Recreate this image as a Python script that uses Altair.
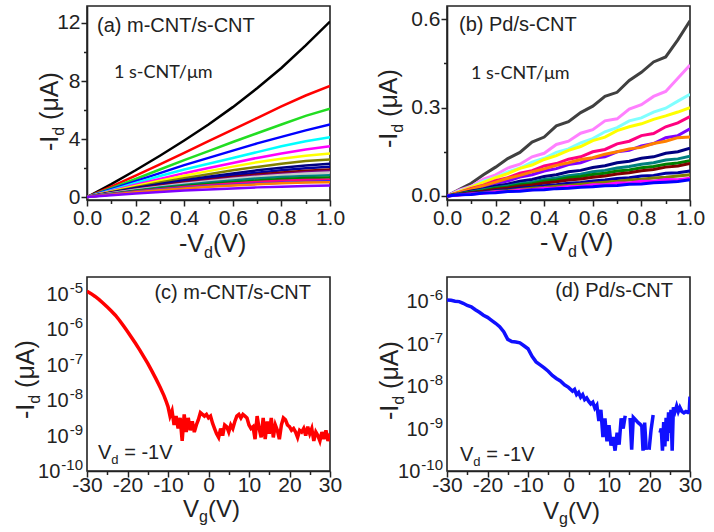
import altair as alt
import pandas as pd

# ---------------- data ----------------
# (a) m-CNT/s-CNT output curves, -Id (uA) vs -Vd (V)
A_VD = [0.0, 0.1, 0.2, 0.3, 0.4, 0.5, 0.6, 0.7, 0.8, 0.9, 1.0]
A_COLORS = ["#000000", "#ff0000", "#22dd22", "#0000ff", "#00ffff", "#ff00ff", "#ffff00",
            "#808000", "#000080", "#0000a0", "#800000", "#800080", "#c8c8c8", "#008080",
            "#008000", "#ff0080", "#3030ff", "#ff8000", "#8000ff"]
A_ID = [
    [0, 0.9, 1.85, 2.85, 3.9, 5.0, 6.2, 7.5, 8.9, 10.45, 12.1],
    [0, 0.72, 1.48, 2.25, 3.05, 3.85, 4.65, 5.45, 6.25, 7.0, 7.66],
    [0, 0.62, 1.25, 1.9, 2.55, 3.17, 3.8, 4.4, 5.0, 5.6, 6.1],
    [0, 0.55, 1.1, 1.65, 2.2, 2.7, 3.2, 3.7, 4.15, 4.6, 5.0],
    [0, 0.48, 0.97, 1.45, 1.9, 2.3, 2.7, 3.1, 3.5, 3.85, 4.12],
    [0, 0.42, 0.85, 1.25, 1.65, 2.0, 2.35, 2.7, 3.0, 3.28, 3.5],
    [0, 0.38, 0.76, 1.12, 1.47, 1.79, 2.1, 2.4, 2.65, 2.85, 3.0],
    [0, 0.35, 0.68, 1.0, 1.3, 1.58, 1.85, 2.08, 2.3, 2.48, 2.6],
    [0, 0.32, 0.62, 0.9, 1.16, 1.4, 1.62, 1.85, 2.03, 2.18, 2.3],
    [0, 0.3, 0.58, 0.84, 1.08, 1.3, 1.5, 1.68, 1.85, 1.98, 2.1],
    [0, 0.28, 0.54, 0.78, 1.0, 1.2, 1.38, 1.55, 1.7, 1.82, 1.9],
    [0, 0.27, 0.52, 0.75, 0.96, 1.15, 1.32, 1.47, 1.6, 1.72, 1.8],
    [0, 0.26, 0.5, 0.72, 0.92, 1.1, 1.26, 1.4, 1.53, 1.63, 1.7],
    [0, 0.24, 0.46, 0.66, 0.84, 1.0, 1.15, 1.28, 1.39, 1.46, 1.5],
    [0, 0.22, 0.42, 0.6, 0.76, 0.9, 1.03, 1.14, 1.24, 1.31, 1.35],
    [0, 0.2, 0.38, 0.54, 0.69, 0.82, 0.94, 1.04, 1.12, 1.17, 1.2],
    [0, 0.18, 0.35, 0.5, 0.63, 0.74, 0.84, 0.92, 0.99, 1.04, 1.1],
    [0, 0.17, 0.33, 0.47, 0.6, 0.71, 0.8, 0.88, 0.95, 1.0, 1.03],
    [0, 0.13, 0.25, 0.35, 0.45, 0.53, 0.6, 0.67, 0.72, 0.77, 0.8],
]

# (b) Pd/s-CNT output curves
B_VD = [0.0, 0.05, 0.1, 0.15, 0.2, 0.25, 0.3, 0.35, 0.4, 0.45, 0.5,
        0.55, 0.6, 0.65, 0.7, 0.75, 0.8, 0.85, 0.9, 0.95, 1.0]
B_COLORS = ["#404040", "#ff80ff", "#80ffff", "#ffff00", "#ff0080", "#8000ff", "#ff8000",
            "#000080", "#008080", "#008000", "#800000", "#0000a0", "#808000", "#ff00ff", "#0000ff"]
B_ID = [
    [0, 0.022, 0.043, 0.072, 0.098, 0.127, 0.148, 0.183, 0.2, 0.238, 0.252, 0.283, 0.305, 0.338, 0.352, 0.392, 0.42, 0.455, 0.472, 0.53, 0.595],
    [0, 0.02, 0.033, 0.057, 0.072, 0.095, 0.108, 0.133, 0.145, 0.175, 0.186, 0.213, 0.225, 0.255, 0.262, 0.295, 0.31, 0.338, 0.355, 0.4, 0.445],
    [0, 0.016, 0.03, 0.05, 0.063, 0.082, 0.095, 0.115, 0.128, 0.148, 0.16, 0.18, 0.195, 0.218, 0.232, 0.255, 0.265, 0.285, 0.298, 0.322, 0.345],
    [0, 0.015, 0.03, 0.046, 0.062, 0.076, 0.094, 0.105, 0.124, 0.137, 0.155, 0.168, 0.188, 0.2, 0.222, 0.235, 0.245, 0.26, 0.272, 0.285, 0.3],
    [0, 0.012, 0.026, 0.037, 0.052, 0.062, 0.077, 0.086, 0.102, 0.11, 0.125, 0.133, 0.15, 0.158, 0.177, 0.186, 0.205, 0.212, 0.235, 0.248, 0.27],
    [0, 0.01, 0.021, 0.031, 0.043, 0.051, 0.064, 0.072, 0.085, 0.093, 0.107, 0.113, 0.128, 0.133, 0.15, 0.155, 0.17, 0.178, 0.198, 0.205, 0.228],
    [0, 0.012, 0.023, 0.035, 0.047, 0.06, 0.07, 0.082, 0.092, 0.104, 0.113, 0.124, 0.13, 0.142, 0.15, 0.16, 0.165, 0.178, 0.186, 0.198, 0.2],
    [0, 0.008, 0.017, 0.024, 0.034, 0.04, 0.05, 0.056, 0.066, 0.072, 0.082, 0.087, 0.097, 0.103, 0.113, 0.118, 0.128, 0.133, 0.145, 0.15, 0.162],
    [0, 0.007, 0.014, 0.021, 0.028, 0.034, 0.042, 0.047, 0.056, 0.061, 0.069, 0.074, 0.082, 0.087, 0.095, 0.1, 0.108, 0.113, 0.122, 0.126, 0.135],
    [0, 0.006, 0.013, 0.018, 0.026, 0.03, 0.038, 0.042, 0.05, 0.054, 0.062, 0.066, 0.073, 0.077, 0.085, 0.088, 0.096, 0.1, 0.108, 0.112, 0.12],
    [0, 0.005, 0.011, 0.016, 0.022, 0.027, 0.033, 0.037, 0.044, 0.048, 0.054, 0.058, 0.064, 0.068, 0.075, 0.079, 0.086, 0.09, 0.098, 0.102, 0.11],
    [0, 0.004, 0.009, 0.013, 0.018, 0.021, 0.027, 0.03, 0.035, 0.038, 0.043, 0.046, 0.051, 0.054, 0.059, 0.062, 0.068, 0.07, 0.077, 0.079, 0.085],
    [0, 0.004, 0.007, 0.011, 0.015, 0.018, 0.022, 0.026, 0.029, 0.033, 0.036, 0.04, 0.043, 0.047, 0.05, 0.054, 0.057, 0.061, 0.064, 0.068, 0.072],
    [0, 0.003, 0.007, 0.009, 0.014, 0.015, 0.02, 0.021, 0.026, 0.027, 0.032, 0.032, 0.038, 0.038, 0.044, 0.044, 0.05, 0.05, 0.056, 0.055, 0.06],
    [0, 0.004, 0.005, 0.01, 0.011, 0.015, 0.016, 0.02, 0.021, 0.025, 0.026, 0.03, 0.031, 0.035, 0.036, 0.04, 0.041, 0.045, 0.047, 0.049, 0.055],
]

# (c) m-CNT/s-CNT transfer curve: Vg (V) and log10(-Id)
C_VG = [-30, -29, -28, -27, -26, -25, -24, -23, -22, -21, -20, -19, -18, -17, -16, -15, -14, -13, -12, -11,
        -10.5, -10, -9.5, -9, -8.5, -8, -7.5, -7, -6.5, -6, -5.5, -5, -4.5, -4, -3.5, -3, -2.5, -2, -1.5, -1, -0.5,
        0, 0.5, 1, 1.5, 2, 2.5, 3, 3.5, 4, 4.5, 5, 5.5, 6, 6.5, 7, 7.5, 8, 8.5, 9, 9.5,
        10, 10.5, 11, 11.5, 12, 12.5, 13, 13.5, 14, 14.5, 15, 15.5, 16, 16.5, 17, 17.5, 18, 18.5, 19, 19.5,
        20, 20.5, 21, 21.5, 22, 22.5, 23, 23.5, 24, 24.5, 25, 25.5, 26, 26.5, 27, 27.5, 28, 28.5, 29, 29.5, 30]
C_LOG_ID = [-4.92, -4.99, -5.07, -5.16, -5.26, -5.37, -5.48, -5.6, -5.74, -5.9, -6.06, -6.23, -6.4, -6.58, -6.77, -6.96, -7.17, -7.39, -7.62, -7.87,
            -8.02, -8.18, -8.45, -8.3, -8.7, -8.45, -8.8, -8.5, -9.15, -8.4, -8.9, -8.5, -8.85, -8.6, -8.9, -8.7, -8.55, -8.35, -8.4, -8.45, -8.4,
            -8.5, -8.45, -8.65, -8.8, -8.95, -9.05, -8.8, -9.0, -8.7, -8.75, -8.9, -8.7, -8.8, -8.6, -8.45, -8.4, -8.5, -8.4, -8.45, -8.5,
            -8.7, -8.8, -8.75, -9.1, -8.45, -8.8, -9.05, -8.5, -9.1, -8.6, -8.95, -8.5, -9.05, -8.7, -8.85, -9.1, -8.7, -8.5, -8.55, -8.7,
            -8.75, -8.85, -8.8, -8.9, -9.05, -8.85, -8.9, -8.8, -9.0, -8.75, -8.95, -8.8, -9.15, -8.9, -9.0, -9.15, -8.9, -9.1, -8.85, -9.15, -8.95]

# (d) Pd/s-CNT transfer curve (segments separate the gaps of the trace)
D_VG = [-30, -29, -28, -27, -26, -25, -24, -23, -22, -21, -20, -19, -18, -17, -16, -15, -14, -13, -12, -11,
        -10, -9, -8, -7, -6, -5, -4, -3, -2, -1, 0, 1, 1.5, 2, 2.5, 3, 3.5, 4, 4.5, 5, 5.5, 6, 6.5, 7, 7.5,
        8, 8.5, 9, 9.5, 10, 10.5, 11, 11.5, 12, 12.5, 13, 13.5, 14,
        15.2, 15.6, 16.0, 16.6, 17.2, 17.7, 18.1, 18.4, 18.8, 19.2,
        19.9, 20.4, 20.9,
        22.6, 22.9, 23.2, 23.5, 23.8, 24.1, 24.4, 24.7, 25.0, 25.3, 25.6, 25.9, 26.3, 26.7, 27.1, 27.5,
        28.0, 28.5, 29.0, 29.5, 29.8, 30.0]
D_LOG_ID = [-5.97, -5.98, -6.0, -6.01, -6.05, -6.1, -6.13, -6.2, -6.26, -6.33, -6.38, -6.45, -6.52, -6.6, -6.72, -6.9, -6.95, -6.96, -6.98, -7.05,
            -7.12, -7.3, -7.43, -7.5, -7.57, -7.65, -7.75, -7.82, -7.88, -7.97, -8.03, -8.12, -8.08, -8.2, -8.15, -8.26, -8.2, -8.32, -8.28, -8.36, -8.42, -8.38, -8.52, -8.45, -8.82,
            -8.56, -9.2, -8.76, -9.3, -8.92, -9.4, -9.2, -9.52, -9.1, -9.38, -8.76, -9.0, -8.7,
            -8.75, -9.5, -8.74, -8.8, -8.86, -8.9, -8.95, -9.52, -8.86, -9.5,
            -9.5, -9.02, -8.68,
            -9.1, -9.0, -9.52, -8.85, -9.42, -8.75, -9.3, -8.62, -9.1, -8.56, -9.52, -8.5, -8.6, -8.47, -8.6, -8.5,
            -8.6, -8.63, -8.6, -8.62, -8.6, -8.25]
D_SEG = [0] * 58 + [1] * 10 + [2] * 3 + [3] * 22

# tick values
A_XTICKS = [0.0, 0.1, 0.2, 0.3, 0.4, 0.5, 0.6, 0.7, 0.8, 0.9, 1.0]
A_YTICKS = [0, 2, 4, 6, 8, 10, 12]
B_YTICKS = [0.0, 0.15, 0.3, 0.45, 0.6]
G_XTICKS = [-30, -25, -20, -15, -10, -5, 0, 5, 10, 15, 20, 25, 30]
C_YTICK_EXP = [-10, -9.5, -9, -8.5, -8, -7.5, -7, -6.5, -6, -5.5, -5]
C_LABEL_EXP = [-10, -9, -8, -7, -6, -5]
D_YTICK_EXP = [-10, -9.5, -9, -8.5, -8, -7.5, -7, -6.5, -6, -5.5]
D_LABEL_EXP = [-10, -9, -8, -7, -6]

# ---------------- style ----------------
FONT = "Liberation Sans"
TXT = "#222222"
W, H = 243, 194
SUP = 15
CW = {'-': 0.333, 'V': 0.667, '(': 0.333, ')': 0.333, 'd': 0.556, 'g': 0.556, 'I': 0.278,
      ' ': 0.278, 'μ': 0.576, 'A': 0.667, '=': 0.584, '1': 0.556}


def width(s, size):
    return sum(CW.get(c, 0.556) for c in s) * size


def txt(s, x, y, size=20, font=FONT, angle=0, align="left", baseline="alphabetic", color=TXT):
    kw = dict(align=align, baseline=baseline, fontSize=size, font=font, color=color)
    if angle:
        kw["angle"] = angle
    return alt.Chart(pd.DataFrame({"t": [s]})).mark_text(**kw).encode(
        x=alt.value(x), y=alt.value(y), text="t:N")


def run(parts, x0, y0, size, sub, drop, vertical=False):
    out = []
    pos = 0.0
    for s, is_sub, gap in parts:
        pos += gap
        fs = sub if is_sub else size
        off = drop if is_sub else 0
        if vertical:
            out.append(txt(s, x0 + off, y0 - pos, fs, angle=270))
        else:
            out.append(txt(s, x0 + pos, y0 + off, fs))
        pos += width(s, fs)
    return out


def id_title(x0, y0, size=25, sub=16):
    return run([("-I", False, 0), ("d", True, 0), ("(μA)", False, 0.278 * size)],
               x0, y0, size, sub, 0.24 * size, vertical=True)


def cond_tick(minor_test, minor=3.5, major=6):
    return {"condition": {"test": minor_test, "value": minor}, "value": major}


def lin_x_axis():
    return alt.Axis(values=A_XTICKS, title=None, grid=False, labelFlush=False, labelOverlap=False,
                    labelExpr="round(datum.value*10) % 2 == 0 ? format(datum.value, '.1f') : ''",
                    tickSize=cond_tick("round(datum.value*10) % 2 != 0"))


def vg_axis():
    return alt.Axis(values=G_XTICKS, title=None, grid=False, labelFlush=False, labelOverlap=False,
                    labelPadding=-3,
                    labelExpr="datum.value % 10 == 0 ? '' + datum.value : ''",
                    tickSize=cond_tick("datum.value % 10 != 0"))


LOGMAJ = "abs(log(datum.value)/LN10 - round(log(datum.value)/LN10)) < 0.01"


def log_axis(exps):
    return alt.Axis(values=[10.0 ** e for e in exps], title=None, grid=False, labels=False,
                    tickSize={"condition": {"test": "!(" + LOGMAJ + ")", "value": 3.5}, "value": 6})


def log_labels(exps, yscale):
    df = pd.DataFrame({"I": [10.0 ** e for e in exps], "sup": [str(e) for e in exps],
                       "n": [len(str(e)) for e in exps]})
    y = alt.Y("I:Q", scale=yscale, axis=None)
    base = alt.Chart(df)
    sup = base.mark_text(align="right", baseline="alphabetic", dy=-1, fontSize=SUP, font=FONT,
                         color=TXT).encode(x=alt.value(-4), y=y, text="sup:N")
    out = [sup]
    for n in (2, 3):
        wexp = width("-" + "1" * (n - 1), SUP)
        out.append(base.transform_filter(f"datum.n == {n}").mark_text(
            align="right", baseline="middle", dy=1, fontSize=20, font=FONT, color=TXT).encode(
            x=alt.value(-5 - wexp), y=y, text=alt.value("10")))
    return out


def line_df(curves, xs, prefix):
    rows = []
    for i, vals in enumerate(curves):
        for v, c in zip(xs, vals):
            rows.append({"s": f"{prefix}{i:02d}", "V": v, "I": c})
    return pd.DataFrame(rows)


# ---------------- panel (a) ----------------
dfa = line_df(A_ID, A_VD, "a")
dfa["col"] = [A_COLORS[int(s[1:])] for s in dfa["s"]]
a_lines = alt.Chart(dfa).mark_line(strokeWidth=2.5, clip=True).encode(
    x=alt.X("V:Q", scale=alt.Scale(domain=[0, 1], nice=False, zero=False), axis=lin_x_axis()),
    y=alt.Y("I:Q", scale=alt.Scale(domain=[-0.2, 13.17], nice=False, zero=False),
            axis=alt.Axis(values=A_YTICKS, title=None, grid=False, labelOverlap=False,
                          labelExpr="datum.value % 4 == 0 ? '' + datum.value : ''",
                          tickSize=cond_tick("datum.value % 4 != 0"))),
    color=alt.Color("col:N", scale=None),
    detail="s:N",
)
anchor = alt.Chart(pd.DataFrame({"t": [0]})).mark_rect(opacity=0).encode(
    x=alt.value(-86), x2=alt.value(-80), y=alt.value(-5), y2=alt.value(0))
panel_a = alt.layer(
    a_lines, anchor,
    txt("(a) m-CNT/s-CNT", 10, 26, 20),
    txt("1 s-CNT/μm", 27, 72, 18, font="Lato"),
    *id_title(-29, 145),
    *run([("-V", False, 0), ("d", True, 0), ("(V)", False, 0)], 92, 246, 25, 16, 6),
).properties(width=W, height=H)

# ---------------- panel (b) ----------------
dfb = line_df(B_ID, B_VD, "b")
dfb["col"] = [B_COLORS[int(s[1:])] for s in dfb["s"]]
b_lines = alt.Chart(dfb).mark_line(strokeWidth=3, clip=True).encode(
    x=alt.X("V:Q", scale=alt.Scale(domain=[0, 1], nice=False, zero=False), axis=lin_x_axis()),
    y=alt.Y("I:Q", scale=alt.Scale(domain=[-0.0136, 0.645], nice=False, zero=False),
            axis=alt.Axis(values=B_YTICKS, title=None, grid=False, labelOverlap=False,
                          labelExpr="round(datum.value*100) % 30 == 0 ? format(datum.value, '.1f') : ''",
                          tickSize=cond_tick("round(datum.value*100) % 30 != 0"))),
    color=alt.Color("col:N", scale=None),
    detail="s:N",
)
panel_b = alt.layer(
    b_lines,
    txt("(b) Pd/s-CNT", 12, 25, 20),
    txt("1 s-CNT/μm", 24, 73, 18, font="Lato"),
    *id_title(-50, 142),
    *run([("-", False, 0), ("V", False, 3), ("d", True, 0), ("(V)", False, 3)], 93, 245, 25, 16, 6),
).properties(width=W, height=H)

# ---------------- panel (c) ----------------
dfc = pd.DataFrame({"V": C_VG, "I": [10.0 ** e for e in C_LOG_ID]})
c_scale = alt.Scale(type="log", domain=[1e-10, 10 ** -4.52], nice=False)
c_line = alt.Chart(dfc).mark_line(color="#ff0000", strokeWidth=3.5, clip=True).encode(
    x=alt.X("V:Q", scale=alt.Scale(domain=[-30, 30], nice=False, zero=False), axis=vg_axis()),
    y=alt.Y("I:Q", scale=c_scale, axis=log_axis(C_YTICK_EXP)),
)
panel_c = alt.layer(
    c_line,
    *log_labels(C_LABEL_EXP, c_scale),
    txt("(c) m-CNT/s-CNT", 224, 22, 20, align="right"),
    *run([("V", False, 0), ("d", True, 0), ("= -1V", False, 5.6)], 11, 182, 20, 13, 5),
    *id_title(-53, 142),
    *run([("V", False, 0), ("g", True, 0), ("(V)", False, 0)], 96, 240, 24, 16, 5),
).properties(width=W, height=H)

# ---------------- panel (d) ----------------
dfd = pd.DataFrame({"V": D_VG, "I": [10.0 ** e for e in D_LOG_ID], "seg": D_SEG})
d_scale = alt.Scale(type="log", domain=[1e-10, 10 ** -5.43], nice=False)
d_line = alt.Chart(dfd).mark_line(color="#1010ff", strokeWidth=3.5, clip=True).encode(
    x=alt.X("V:Q", scale=alt.Scale(domain=[-30, 30], nice=False, zero=False), axis=vg_axis()),
    y=alt.Y("I:Q", scale=d_scale, axis=log_axis(D_YTICK_EXP)),
    detail="seg:N",
)
panel_d = alt.layer(
    d_line,
    *log_labels(D_LABEL_EXP, d_scale),
    txt("(d) Pd/s-CNT", 226, 20, 20, align="right"),
    *run([("V", False, 0), ("d", True, 0), ("= -1V", False, 5.6)], 13, 184, 20, 13, 5),
    *id_title(-49, 143),
    *run([("V", False, 0), ("g", True, 0), ("(V)", False, 0)], 96, 242, 24, 16, 5),
).properties(width=W, height=H)

chart = alt.concat(
    panel_a, panel_b, panel_c, panel_d, columns=2,
    spacing={"row": 77, "column": 117}, bounds="flush",
).properties(padding=0, background="white").configure_view(
    stroke="#222222", strokeWidth=1.6
).configure_axis(
    labelFont=FONT, labelFontSize=21, labelColor=TXT, tickColor="#222222", tickWidth=1.5,
    domainColor="#222222", domainWidth=1.6, labelPadding=1, grid=False
)

chart.save("out.html", embed_options={"renderer": "svg", "actions": False})
